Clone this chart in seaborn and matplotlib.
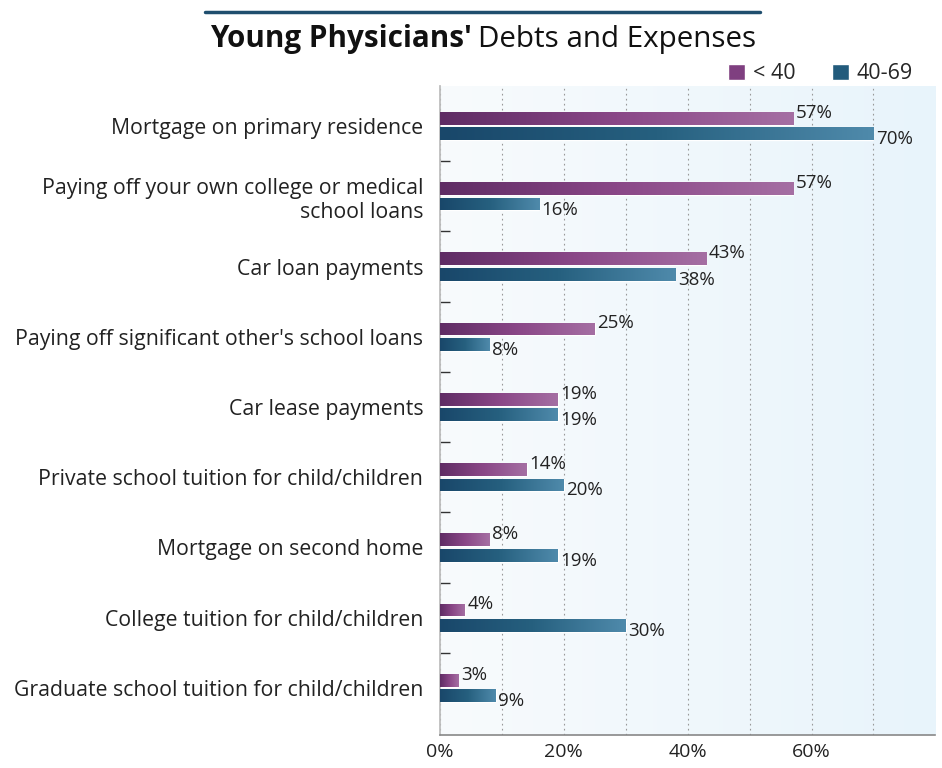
import numpy as np
import pandas as pd
import matplotlib.pyplot as plt
from matplotlib.colors import LinearSegmentedColormap
from matplotlib.patches import Patch
import seaborn as sns

sns.set_theme(style='white')
plt.rcParams['font.family'] = ['Open Sans', 'DejaVu Sans']

categories = [
    'Mortgage on primary residence',
    'Paying off your own college or medical\nschool loans',
    'Car loan payments',
    "Paying off significant other's school loans",
    'Car lease payments',
    'Private school tuition for child/children',
    'Mortgage on second home',
    'College tuition for child/children',
    'Graduate school tuition for child/children',
]
under_40 = [57, 57, 43, 25, 19, 14, 8, 4, 3]
age_40_69 = [70, 16, 38, 8, 19, 20, 19, 30, 9]
groups = ['< 40', '40-69']
x_ticks = [0, 20, 40, 60]

df = pd.DataFrame({
    'category': categories * 2,
    'value': under_40 + age_40_69,
    'group': [groups[0]] * len(categories) + [groups[1]] * len(categories),
})

purple = '#7f3f80'
blue = '#225b7c'
grads = {
    groups[0]: LinearSegmentedColormap.from_list('p', ['#5f2c64', '#8a4787', '#a56fa3']),
    groups[1]: LinearSegmentedColormap.from_list('b', ['#19476a', '#26607f', '#4f8aab']),
}

fig = plt.figure(figsize=(9.42, 7.68), dpi=100)
ax = fig.add_axes([0.467, 0.043, 0.526, 0.845])

sns.barplot(data=df, y='category', x='value', hue='group', orient='h',
            palette=[purple, blue], width=0.44, gap=0.18, ax=ax, legend=False)

# background gradient
bg = LinearSegmentedColormap.from_list('bg', ['#f8fbfd', '#e8f4fb'])
ax.imshow(np.linspace(0, 1, 256).reshape(1, -1), cmap=bg, aspect='auto',
          extent=[0, 1, 0, 1], transform=ax.transAxes, zorder=0)

# gradient fill on bars + labels
for cont, g in zip(ax.containers, groups):
    for bar in cont:
        x0, y0 = bar.get_x(), bar.get_y()
        w, h = bar.get_width(), bar.get_height()
        im = ax.imshow(np.linspace(0, 1, 256).reshape(1, -1), cmap=grads[g],
                       aspect='auto', extent=[x0, x0 + w, y0 + h, y0], zorder=3)
        im.set_clip_path(bar)
        bar.set_zorder(2)
        dy = 4 if g == groups[0] else -4
        ax.annotate(f'{w:.0f}%', (x0 + w, y0 + h / 2), xytext=(2, dy),
                    textcoords='offset points', ha='left', va='center',
                    fontsize=13.5, color='#222222', zorder=5)

ax.set_xlim(0, 80)
ax.set_ylim(len(categories) - 0.33, -0.57)

ax.set_xticks(x_ticks)
ax.set_xticklabels([f'{t}%' for t in x_ticks], fontsize=14, color='#222222')
ax.set_xticks(np.arange(10, 80, 10), minor=True)
ax.grid(True, which='both', axis='x', linestyle=(0, (1.5, 3)), color='#999999', linewidth=0.8)
ax.set_axisbelow(True)
ax.set_yticks(np.arange(0.5, len(categories) - 1, 1), minor=True)
ax.tick_params(axis='y', which='minor', direction='in', length=7, width=1, color='#333333', left=True)
ax.tick_params(axis='y', which='major', length=0, labelsize=15.3, labelcolor='#222222', pad=12)
ax.tick_params(axis='x', which='both', length=0, pad=6)
ax.set_xlabel('')
ax.set_ylabel('')

for s in ['top', 'right']:
    ax.spines[s].set_visible(False)
ax.spines['left'].set_color('#bbbbbb')
ax.spines['bottom'].set_color('#888888')
ax.spines['bottom'].set_linewidth(1.2)

# title with rule above
fig.add_artist(plt.Line2D([0.218, 0.807], [0.984, 0.984], color='#1f4e6e', linewidth=2.5))
t1 = fig.text(0.223, 0.949, "Young Physicians'", fontsize=21.3, fontweight='bold',
              color='#111111', va='center', ha='left')
fig.canvas.draw()
bb = t1.get_window_extent()
fig.text(bb.x1 / fig.bbox.width + 0.006, 0.949, 'Debts and Expenses', fontsize=21.3,
         color='#111111', va='center', ha='left')

handles = [Patch(facecolor=purple, label=groups[0]), Patch(facecolor=blue, label=groups[1])]
fig.legend(handles=handles, loc='center right', bbox_to_anchor=(0.99, 0.904), ncol=2,
           frameon=False, fontsize=15.5, handlelength=0.8, handleheight=0.8,
           handletextpad=0.35, columnspacing=1.7)

fig.savefig('out.png', dpi=100)
